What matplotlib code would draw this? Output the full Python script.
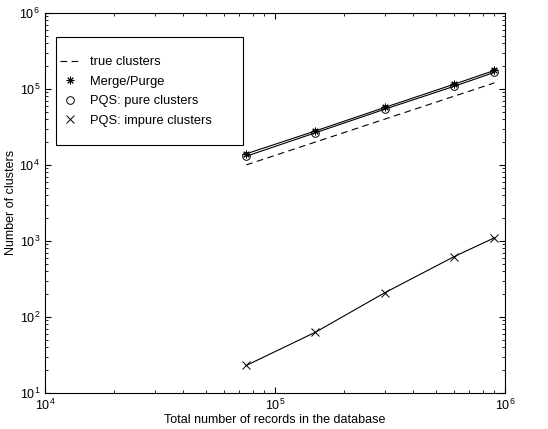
import matplotlib
matplotlib.use("Agg")
import matplotlib.pyplot as plt
from matplotlib.patches import Rectangle
from matplotlib.ticker import LogLocator, NullFormatter

plt.rcParams['font.family'] = ['Liberation Sans', 'DejaVu Sans']

records = [75000, 150000, 300000, 600000, 900000]
true_clusters = [10000, 20000, 40000, 80000, 120000]
merge_purge = [14000, 28000, 57000, 115000, 175000]
pqs_pure = [13000, 26500, 54000, 108000, 165000]
pqs_impure = [23, 63, 208, 620, 1100]

fig = plt.figure(figsize=(5.48, 4.29), dpi=100)
ax = fig.add_axes([0.082, 0.084, 0.8395, 0.886])

ax.plot(records, true_clusters, 'k--', lw=0.8, dashes=(6, 4), label='true clusters')
ax.plot(records, merge_purge, 'k-', lw=0.8)
ax.plot(records, pqs_pure, 'k-', lw=0.8)
ax.plot(records, pqs_impure, 'k-', lw=0.8)
ax.plot(records, merge_purge, 'k', ls='none', marker=(8, 2, 0), ms=5.5, mew=0.7, label='Merge/Purge')
ax.plot(records, pqs_pure, 'k', ls='none', marker='o', mfc='none', ms=5.5, mew=0.7, label='PQS: pure clusters')
ax.plot(records, pqs_impure, 'k', ls='none', marker='x', ms=5.5, mew=0.7, label='PQS: impure clusters')

ax.set_xscale('log')
ax.set_yscale('log')
ax.set_xlim(1e4, 1e6)
ax.set_ylim(1e1, 1e6)
ax.xaxis.set_minor_locator(LogLocator(base=10, subs=range(2, 10)))
ax.yaxis.set_minor_locator(LogLocator(base=10, subs=range(2, 10)))
ax.xaxis.set_minor_formatter(NullFormatter())
ax.yaxis.set_minor_formatter(NullFormatter())
ax.tick_params(which='both', direction='in', top=True, right=True, labelsize=9)
ax.tick_params(which='major', length=4)
ax.tick_params(which='minor', length=2)

ax.set_xlabel('Total number of records in the database', fontsize=9, labelpad=1)
ax.set_ylabel('Number of clusters', fontsize=9, labelpad=2)

# legend box drawn separately (matlab-style wide padding)
ax.add_patch(Rectangle((0.024, 0.653), 0.4065, 0.284, transform=ax.transAxes,
                       fill=True, facecolor='white', edgecolor='k', lw=0.8, zorder=4))
leg = ax.legend(loc='center left', bbox_to_anchor=(0.0326, 0.793), fontsize=9.3,
                frameon=False, handlelength=1.55, handletextpad=0.77,
                borderpad=0, borderaxespad=0, labelspacing=0.58)
leg.set_zorder(5)

fig.savefig('out.png', dpi=100)
